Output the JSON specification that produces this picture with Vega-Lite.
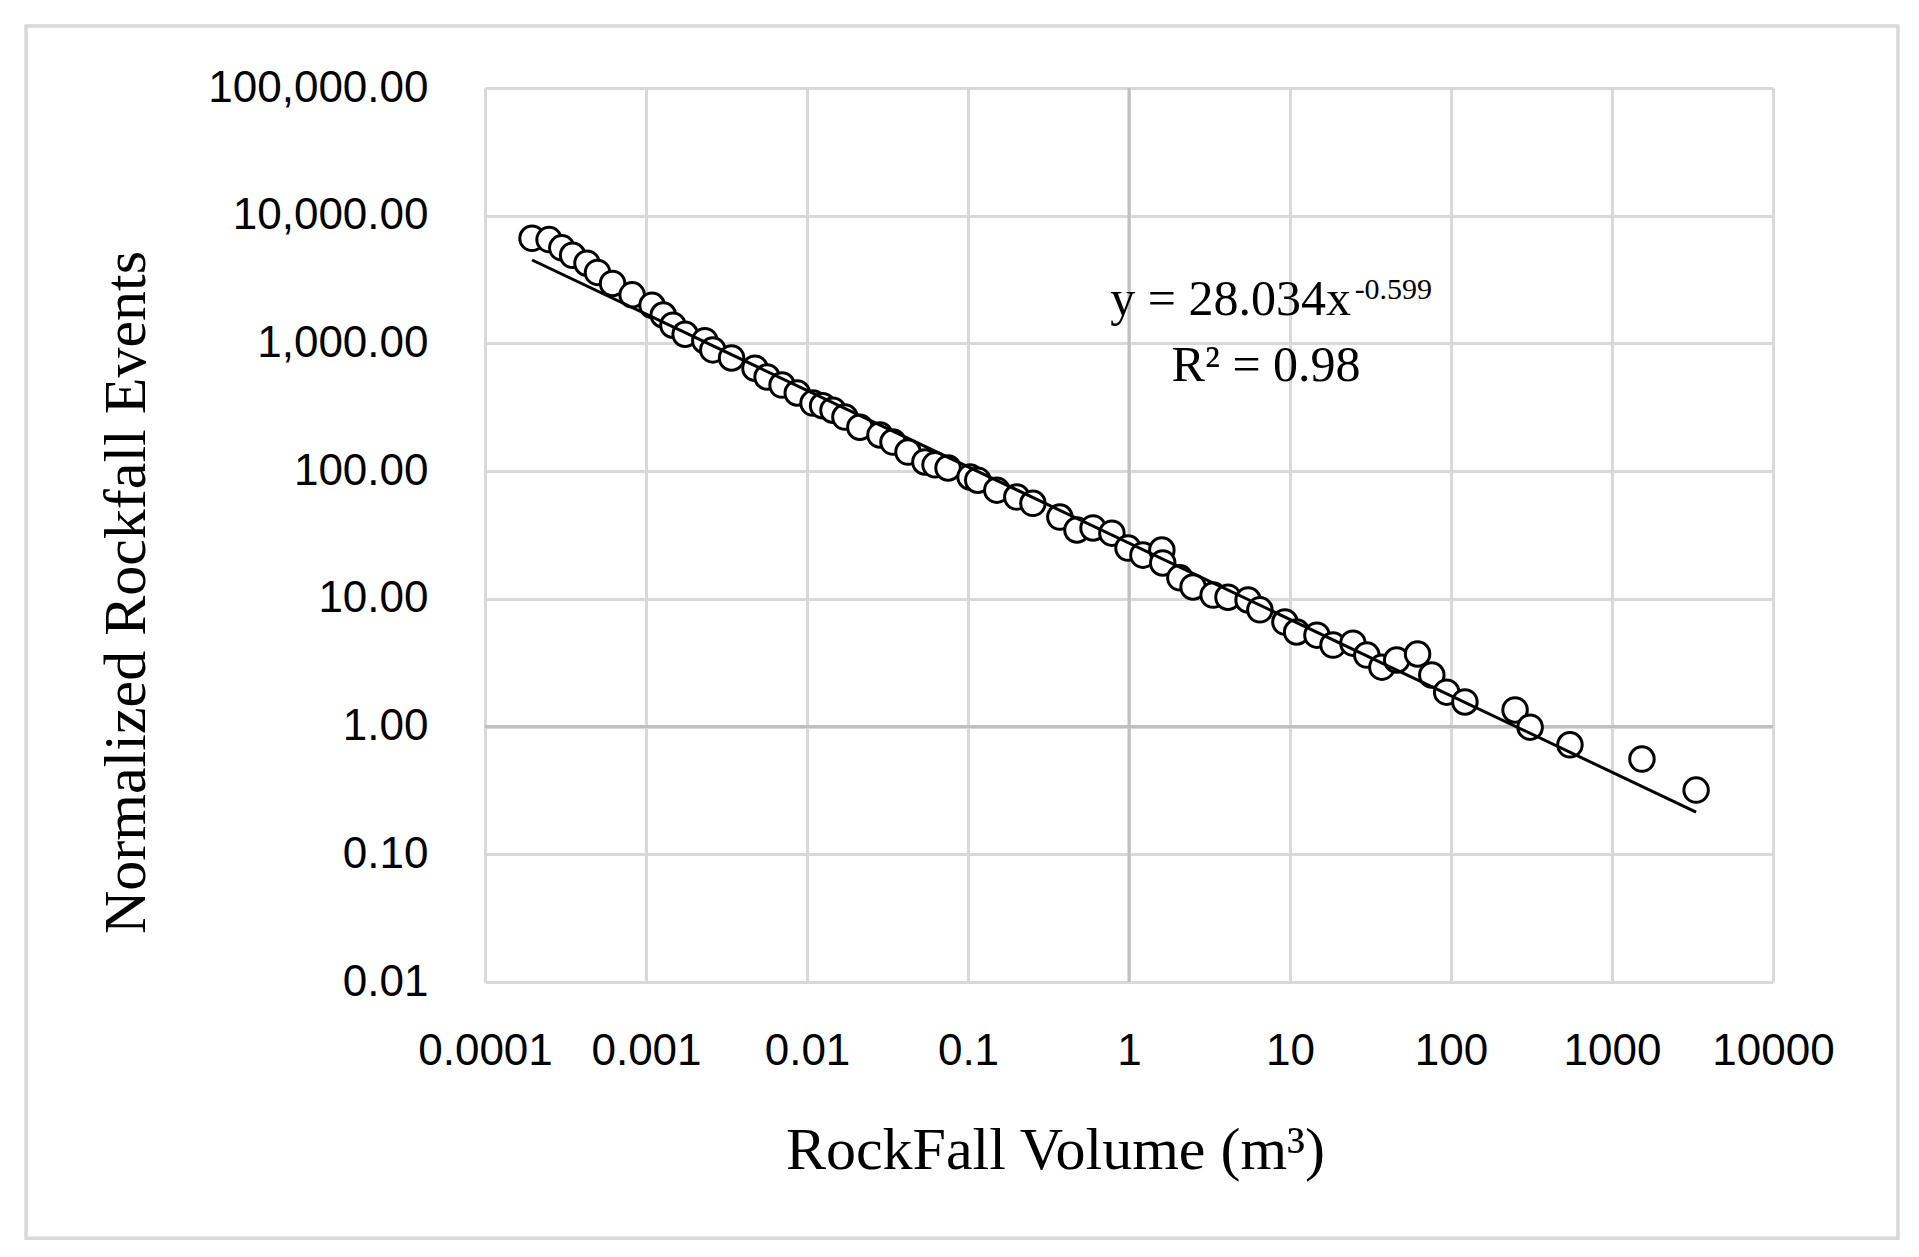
{
  "$schema": "https://vega.github.io/schema/vega-lite/v6.json",
  "width": 1288,
  "height": 894,
  "autosize": {"type": "none"},
  "padding": {"left": 485, "top": 88, "right": 146, "bottom": 275},
  "background": "white",
  "datasets": {
    "points": [
      {"volume": 0.000196, "events": 6650},
      {"volume": 0.00025, "events": 6500},
      {"volume": 0.0003, "events": 5600},
      {"volume": 0.00035, "events": 4900},
      {"volume": 0.00043, "events": 4250},
      {"volume": 0.0005, "events": 3600},
      {"volume": 0.00062, "events": 2950},
      {"volume": 0.00082, "events": 2400},
      {"volume": 0.00109, "events": 1990},
      {"volume": 0.00128, "events": 1670},
      {"volume": 0.00147, "events": 1390},
      {"volume": 0.00175, "events": 1180},
      {"volume": 0.00232, "events": 1050},
      {"volume": 0.0026, "events": 890},
      {"volume": 0.0034, "events": 770},
      {"volume": 0.00475, "events": 640},
      {"volume": 0.00565, "events": 546},
      {"volume": 0.007, "events": 472},
      {"volume": 0.0087, "events": 409},
      {"volume": 0.0109, "events": 341},
      {"volume": 0.0125, "events": 325},
      {"volume": 0.0145, "events": 300},
      {"volume": 0.0172, "events": 265},
      {"volume": 0.0213, "events": 221},
      {"volume": 0.0284, "events": 192},
      {"volume": 0.0342, "events": 169},
      {"volume": 0.0424, "events": 141},
      {"volume": 0.054, "events": 118},
      {"volume": 0.0624, "events": 112},
      {"volume": 0.0752, "events": 106},
      {"volume": 0.103, "events": 90},
      {"volume": 0.115, "events": 85},
      {"volume": 0.151, "events": 71},
      {"volume": 0.201, "events": 62.7},
      {"volume": 0.253, "events": 56},
      {"volume": 0.372, "events": 43.7},
      {"volume": 0.475, "events": 34.6},
      {"volume": 0.598, "events": 35.9},
      {"volume": 0.783, "events": 32.7},
      {"volume": 0.986, "events": 25},
      {"volume": 1.22, "events": 22},
      {"volume": 1.6, "events": 24.1},
      {"volume": 1.62, "events": 19.1},
      {"volume": 2.07, "events": 14.6},
      {"volume": 2.5, "events": 12.4},
      {"volume": 3.33, "events": 10.7},
      {"volume": 4.12, "events": 10.3},
      {"volume": 5.49, "events": 9.8},
      {"volume": 6.5, "events": 8.2},
      {"volume": 9.3, "events": 6.58},
      {"volume": 11, "events": 5.5},
      {"volume": 14.7, "events": 5.2},
      {"volume": 18.5, "events": 4.35},
      {"volume": 24.6, "events": 4.5},
      {"volume": 30, "events": 3.63},
      {"volume": 37.2, "events": 2.92},
      {"volume": 46, "events": 3.32},
      {"volume": 62, "events": 3.7},
      {"volume": 76, "events": 2.53},
      {"volume": 94, "events": 1.86},
      {"volume": 122, "events": 1.56},
      {"volume": 250, "events": 1.35},
      {"volume": 310, "events": 0.99},
      {"volume": 548, "events": 0.72},
      {"volume": 1535, "events": 0.557},
      {"volume": 3330, "events": 0.318}
    ],
    "trend": [
      {"volume": 0.000196, "events": 4500},
      {"volume": 3330, "events": 0.214}
    ],
    "labels": [
      {"volume": 23.9, "events": 1669, "text": "y = 28.034x", "part": "eq"},
      {"volume": 25.2, "events": 2228, "text": "-0.599", "part": "sup"},
      {"volume": 7.1, "events": 508, "text": "R² = 0.98", "part": "r2"}
    ]
  },
  "config": {
    "view": {"stroke": null},
    "axis": {
      "domain": false,
      "ticks": false,
      "grid": true,
      "gridColor": "#d9d9d9",
      "gridWidth": 3,
      "labelFont": "Liberation Sans",
      "labelFontSize": 44,
      "labelColor": "black",
      "labelLimit": 0,
      "labelOverlap": false,
      "labelFlush": false,
      "titleFont": "Liberation Serif",
      "titleFontSize": 60,
      "titleFontWeight": "normal",
      "titleColor": "black"
    }
  },
  "layer": [
    {
      "data": {"values": [{}]},
      "mark": {"type": "rect", "fill": null, "stroke": "#d9d9d9", "strokeWidth": 3.5},
      "encoding": {
        "x": {"datum": 1.41e-7, "type": "quantitative", "scale": {"type": "log", "domain": [0.0001, 10000]}},
        "x2": {"datum": 59700},
        "y": {"datum": 305900, "type": "quantitative", "scale": {"type": "log", "domain": [0.01, 100000]}},
        "y2": {"datum": 9.87e-5}
      }
    },
    {
      "data": {"values": [{}]},
      "mark": {"type": "rule", "color": "#bfbfbf", "strokeWidth": 3},
      "encoding": {
        "x": {"datum": 1, "type": "quantitative"}
      }
    },
    {
      "data": {"values": [{}]},
      "mark": {"type": "rule", "color": "#bfbfbf", "strokeWidth": 3},
      "encoding": {
        "y": {"datum": 1, "type": "quantitative"}
      }
    },
    {
      "data": {"name": "points"},
      "mark": {"type": "point", "shape": "circle", "size": 600, "fill": "white", "fillOpacity": 1, "stroke": "black", "strokeWidth": 3, "opacity": 1},
      "encoding": {
        "x": {
          "field": "volume", "type": "quantitative",
          "scale": {"type": "log", "domain": [0.0001, 10000]},
          "axis": {
            "title": "RockFall Volume (m³)",
            "values": [0.0001, 0.001, 0.01, 0.1, 1, 10, 100, 1000, 10000],
            "format": "~r",
            "labelBaseline": "alphabetic",
            "labelPadding": 82,
            "titleBaseline": "alphabetic",
            "titleX": 570,
            "titleY": 186,
            "titleAnchor": null,
            "titleAlign": "center"
          }
        },
        "y": {
          "field": "events", "type": "quantitative",
          "scale": {"type": "log", "domain": [0.01, 100000]},
          "axis": {
            "title": "Normalized Rockfall Events",
            "values": [0.01, 0.1, 1, 10, 100, 1000, 10000, 100000],
            "format": ",.2f",
            "labelPadding": 57,
            "titleBaseline": "alphabetic",
            "titleX": -341,
            "titleY": 504,
            "titleAngle": -90,
            "titleAlign": "center"
          }
        }
      }
    },
    {
      "data": {"name": "trend"},
      "mark": {"type": "line", "color": "black", "strokeWidth": 3},
      "encoding": {
        "x": {"field": "volume", "type": "quantitative"},
        "y": {"field": "events", "type": "quantitative"}
      }
    },
    {
      "data": {"name": "labels"},
      "transform": [{"filter": "datum.part == 'eq'"}],
      "mark": {"type": "text", "font": "Liberation Serif", "fontSize": 50, "align": "right", "baseline": "alphabetic", "color": "black"},
      "encoding": {
        "x": {"field": "volume", "type": "quantitative"},
        "y": {"field": "events", "type": "quantitative"},
        "text": {"field": "text"}
      }
    },
    {
      "data": {"name": "labels"},
      "transform": [{"filter": "datum.part == 'sup'"}],
      "mark": {"type": "text", "font": "Liberation Serif", "fontSize": 30, "align": "left", "baseline": "alphabetic", "color": "black"},
      "encoding": {
        "x": {"field": "volume", "type": "quantitative"},
        "y": {"field": "events", "type": "quantitative"},
        "text": {"field": "text"}
      }
    },
    {
      "data": {"name": "labels"},
      "transform": [{"filter": "datum.part == 'r2'"}],
      "mark": {"type": "text", "font": "Liberation Serif", "fontSize": 50, "align": "center", "baseline": "alphabetic", "color": "black"},
      "encoding": {
        "x": {"field": "volume", "type": "quantitative"},
        "y": {"field": "events", "type": "quantitative"},
        "text": {"field": "text"}
      }
    }
  ]
}
